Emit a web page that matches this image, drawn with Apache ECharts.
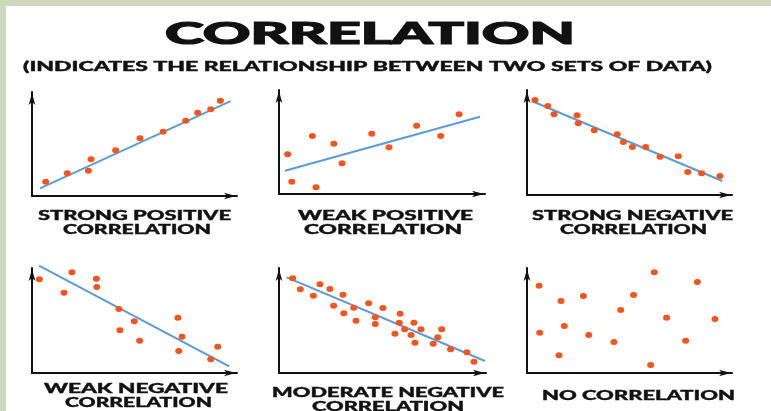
<!DOCTYPE html>
<html>
<head>
<meta charset="utf-8">
<script src="https://cdn.jsdelivr.net/npm/echarts@6/dist/echarts.min.js"></script>
<style>
  html, body { margin: 0; padding: 0; background: #fff; }
  #chart { width: 771px; height: 411px; }
</style>
</head>
<body>
<div id="chart"></div>
<script>
// --------------------------------------------------------------
// Data (x, y on a 0-100 scale)
// --------------------------------------------------------------

const titleText = "CORRELATION";
const subtitleText = "(INDICATES THE RELATIONSHIP BETWEEN TWO SETS OF DATA)";

const panelNames = [
  ["STRONG POSITIVE", "CORRELATION"],
  ["WEAK POSITIVE", "CORRELATION"],
  ["STRONG NEGATIVE", "CORRELATION"],
  ["WEAK NEGATIVE", "CORRELATION"],
  ["MODERATE NEGATIVE", "CORRELATION"],
  ["NO CORRELATION"],
];

const strongPositive = [
  [6.7, 13.8], [17.2, 21.8], [27.5, 24.3], [28.8, 35.3], [40.8, 43.9],
  [52.7, 55.5], [64.0, 61.8], [75.0, 72.4], [80.8, 80.1], [87.2, 83.4],
  [91.9, 91.6],
];
const strongPositiveTrend = [[3.9, 7.4], [96.9, 91.3]];

const weakPositive = [
  [4.2, 38.2], [6.2, 11.8], [16.2, 55.8], [18.0, 6.4], [26.6, 48.4],
  [30.6, 29.5], [45.0, 58.0], [53.4, 44.9], [66.8, 65.7], [78.5, 55.8],
  [87.4, 76.6],
];
const weakPositiveTrend = [[2.9, 22.4], [97.6, 74.3]];

const strongNegative = [
  [3.9, 90.5], [10.1, 84.8], [13.2, 76.9], [24.4, 75.9], [25.0, 68.3],
  [32.8, 61.6], [44.0, 57.8], [47.0, 50.5], [51.4, 45.7], [57.9, 45.7],
  [64.9, 36.5], [73.8, 36.9], [78.4, 21.9], [85.2, 20.7], [94.1, 18.1],
];
const strongNegativeTrend = [[2.3, 89.5], [95.3, 13.3]];

const weakNegative = [
  [3.6, 89.2], [15.6, 76.5], [19.5, 95.9], [31.4, 89.8], [31.6, 81.9],
  [42.4, 61.0], [42.9, 40.7], [49.9, 49.2], [52.5, 30.8], [71.2, 52.7],
  [73.2, 34.6], [71.6, 21.0], [90.6, 25.0], [87.2, 13.0],
];
const weakNegativeTrend = [[3.4, 102.2], [96.2, 6.4]];

const moderateNegative = [
  [6.6, 90.2], [10.3, 79.7], [16.6, 73.6], [19.8, 84.5], [24.6, 80.0],
  [30.9, 74.6], [26.4, 64.1], [31.3, 56.9], [36.1, 62.2], [37.2, 49.8],
  [43.3, 66.4], [46.5, 53.0], [46.5, 46.7], [50.2, 61.9], [56.0, 37.4],
  [58.5, 56.5], [58.1, 47.9], [60.7, 41.6], [65.2, 47.9], [63.8, 36.2],
  [65.7, 28.9], [68.6, 41.6], [74.5, 27.9], [76.7, 34.0], [78.6, 41.6],
  [82.9, 22.6], [90.8, 19.7], [94.2, 10.8],
];
const moderateNegativeTrend = [[3.7, 91.1], [99.5, 11.4]];

const noCorrelation = [
  [5.9, 83.1], [6.2, 38.4], [16.6, 68.6], [15.6, 16.9], [18.2, 44.8],
  [27.5, 73.3], [30.1, 36.2], [42.4, 29.5], [45.7, 60.0], [52.0, 74.3],
  [62.1, 95.9], [60.3, 7.6], [68.1, 52.7], [77.4, 30.8], [83.1, 86.7],
  [91.7, 51.4],
];

const panelPoints = [strongPositive, weakPositive, strongNegative, weakNegative, moderateNegative, noCorrelation];
const panelTrends = [strongPositiveTrend, weakPositiveTrend, strongNegativeTrend, weakNegativeTrend, moderateNegativeTrend, null];

// --------------------------------------------------------------
// Layout
// --------------------------------------------------------------

const grids = [
  {left: 32, top: 92, width: 205, height: 104},
  {left: 279, top: 90, width: 206, height: 104},
  {left: 527, top: 90, width: 205, height: 105},
  {left: 32, top: 268, width: 205, height: 105},
  {left: 279, top: 268, width: 207, height: 105},
  {left: 527, top: 268, width: 205, height: 105},
];

// [cx, cy, width] of each label line
const labelBoxes = [
  [[134.5, 215, 193], [137, 229.5, 148]],
  [[385.5, 215, 175], [383, 229.5, 158]],
  [[632.5, 215, 201], [633.5, 229.5, 147]],
  [[136, 388, 184], [138.5, 402, 147]],
  [[388, 392, 232], [388, 406, 152]],
  [[638.5, 395.5, 193]],
];

const FONT = 'Lato, "DejaVu Sans", sans-serif';
const measureCtx = document.createElement("canvas").getContext("2d");

function fitText(text, cx, cy, w, size, stroke) {
  measureCtx.font = "900 " + size + "px " + FONT;
  const m = measureCtx.measureText(text).width;
  return {
    type: "text",
    x: cx,
    y: cy,
    scaleX: w / m,
    style: {
      text: text,
      fill: "#111",
      stroke: "#111",
      lineWidth: stroke,
      fontFamily: FONT,
      fontWeight: 900,
      fontSize: size,
      align: "center",
      verticalAlign: "middle",
    },
  };
}

function axisCommon(i) {
  return {
    type: "value",
    gridIndex: i,
    min: 0,
    max: 100,
    axisLine: {
      show: true,
      symbol: ["none", "arrow"],
      symbolSize: [5, 12],
      symbolOffset: [0, -1],
      lineStyle: {color: "#111", width: 2},
    },
    axisTick: {show: false},
    axisLabel: {show: false},
    splitLine: {show: false},
  };
}

const xAxes = grids.map((g, i) => axisCommon(i));
const yAxes = grids.map((g, i) => axisCommon(i));

const series = [];
panelPoints.forEach((pts, i) => {
  if (panelTrends[i]) {
    series.push({
      type: "line",
      xAxisIndex: i,
      yAxisIndex: i,
      data: panelTrends[i],
      symbol: "none",
      clip: false,
      silent: true,
      lineStyle: {color: "#5b9bd8", width: 2},
      z: 2,
    });
  }
  series.push({
    type: "scatter",
    xAxisIndex: i,
    yAxisIndex: i,
    data: pts,
    symbolSize: [7, 6],
    itemStyle: {color: "#f5541d", opacity: 1},
    z: 3,
  });
});

const graphics = [
  {type: "rect", shape: {x: 0, y: 0, width: 771, height: 6}, style: {fill: "#cdd8bc"}},
  {type: "rect", shape: {x: 0, y: 0, width: 6, height: 411}, style: {fill: "#cdd8bc"}},
  fitText(titleText, 370, 34, 410, 30, 1.2),
  fitText(subtitleText, 367.5, 67, 689, 13, 0.4),
];
panelNames.forEach((lines, i) => {
  lines.forEach((t, j) => {
    const b = labelBoxes[i][j];
    graphics.push(fitText(t, b[0], b[1], b[2], 14, 0.4));
  });
});

// --------------------------------------------------------------
// Init
// --------------------------------------------------------------

const chart = echarts.init(document.getElementById("chart"), null, {renderer: "canvas"});
chart.setOption({
  backgroundColor: "#fff",
  animation: false,
  grid: grids,
  xAxis: xAxes,
  yAxis: yAxes,
  series: series,
  graphic: graphics,
});
</script>
</body>
</html>
